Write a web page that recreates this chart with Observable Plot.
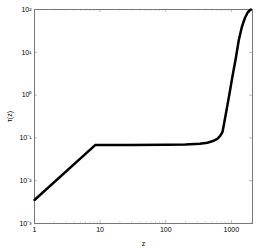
<!DOCTYPE html>
<html>
<head>
<meta charset="utf-8">
<script src="https://cdn.jsdelivr.net/npm/d3@7"></script>
<script src="https://cdn.jsdelivr.net/npm/@observablehq/plot@0.6"></script>
<style>
  html, body { margin: 0; padding: 0; background: #fff; }
  #chart svg { display: block; }
</style>
</head>
<body>
<div id="chart"></div>
<script>
// Curve tau(z)
const zValues   = [1, 8.4, 30, 100, 200, 330, 430, 540, 612, 676, 731, 765, 821, 881, 945, 1014, 1088, 1167, 1297, 1442, 1603, 1782, 1982];
const tauValues = [0.00355, 0.068, 0.0685, 0.069, 0.070, 0.073, 0.077, 0.086, 0.095, 0.111, 0.136, 0.195, 0.353, 0.64, 1.16, 2.21, 4.0, 7.2, 19.1, 38.5, 62.5, 86.4, 100];

const xTicks = [1, 10, 100, 1000];
const xTickLabels = ["1", "10", "100", "1000"];
const yTicks = [0.001, 0.01, 0.1, 1, 10, 100];
const yTickLabels = ["10⁻³", "10⁻²", "10⁻¹", "10⁰", "10¹", "10²"];
const xMinorTicks = [2, 3, 4, 5, 6, 7, 8, 9, 20, 30, 40, 50, 60, 70, 80, 90, 200, 300, 400, 500, 600, 700, 800, 900, 2000];

const data = zValues.map((z, i) => ({z, tau: tauValues[i]}));
const xLab = new Map(xTicks.map((t, i) => [t, xTickLabels[i]]));
const yLab = new Map(yTicks.map((t, i) => [t, yTickLabels[i]]));

const W = 266, H = 248;
const mL = 34, mR = 14, mT = 9, mB = 25;
const fw = W - mL - mR, fh = H - mT - mB;
const tk = 3, tkm = 2;
const tickGray = "#bbb";
const frameGray = "#777";

const chart = Plot.plot({
  width: W,
  height: H,
  marginLeft: mL,
  marginRight: mR,
  marginTop: mT,
  marginBottom: mB,
  style: {fontFamily: "'Liberation Sans', Arial, sans-serif", fontSize: "7px", background: "#fff", color: "#000"},
  x: {type: "log", domain: [1, 2100]},
  y: {type: "log", domain: [0.001, 100]},
  marks: [
    // inward ticks on all four sides
    Plot.tickX(xTicks, {x: d => d, insetTop: fh - tk, stroke: tickGray}),
    Plot.tickX(xTicks, {x: d => d, insetBottom: fh - tk, stroke: tickGray}),
    Plot.tickX(xMinorTicks, {x: d => d, insetTop: fh - tkm, stroke: "#ddd"}),
    Plot.tickX(xMinorTicks, {x: d => d, insetBottom: fh - tkm, stroke: "#ddd"}),
    Plot.tickY(yTicks, {y: d => d, insetRight: fw - tk, stroke: tickGray}),
    Plot.tickY(yTicks, {y: d => d, insetLeft: fw - tk, stroke: tickGray}),
    Plot.frame({stroke: frameGray}),
    Plot.axisX(xTicks, {
      tickSize: 0, tickPadding: 4,
      tickFormat: d => xLab.get(d),
      label: "z", labelAnchor: "center", labelArrow: "none", labelOffset: 22
    }),
    Plot.axisY(yTicks, {
      tickSize: 0, tickPadding: 3,
      tickFormat: d => yLab.get(d),
      label: "τ(z)", labelAnchor: "center", labelArrow: "none", labelOffset: 27
    }),
    Plot.line(data, {x: "z", y: "tau", stroke: "#000", strokeWidth: 2.5, strokeLinejoin: "round"})
  ]
});
document.getElementById("chart").appendChild(chart);
</script>
</body>
</html>
